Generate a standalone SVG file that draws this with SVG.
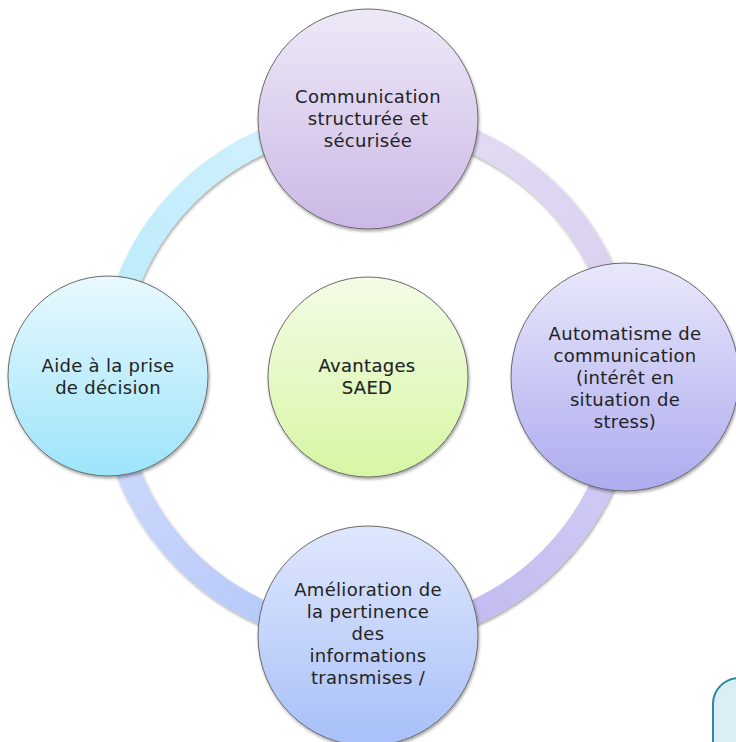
<svg xmlns="http://www.w3.org/2000/svg" width="736" height="742" viewBox="0 0 736 742">
  <style>
    .node { stroke: #6a6a6a; stroke-width: 1; filter: url(#shadow); }
    .arc { fill: none; stroke-width: 24; filter: url(#shadow); }
    text { font-family: "DejaVu Sans", "Noto Sans", sans-serif; font-size: 18px; fill: #232323; text-anchor: middle; letter-spacing: 0.3px; }
    .center-text { stroke: #232323; stroke-width: 0.15px; }
  </style>
  <defs>
    <filter id="shadow" x="-20%" y="-20%" width="140%" height="140%">
      <feDropShadow dx="1" dy="2" stdDeviation="1.8" flood-color="#000" flood-opacity="0.35"/>
    </filter>
    <linearGradient id="gTop" x1="0" y1="0" x2="0" y2="1">
      <stop offset="0" stop-color="#eee9f7"/>
      <stop offset="1" stop-color="#cbb8e6"/>
    </linearGradient>
    <linearGradient id="gRight" x1="0" y1="0" x2="0" y2="1">
      <stop offset="0" stop-color="#e8e8fb"/>
      <stop offset="1" stop-color="#aeabef"/>
    </linearGradient>
    <linearGradient id="gBottom" x1="0" y1="0" x2="0" y2="1">
      <stop offset="0" stop-color="#dfe7fd"/>
      <stop offset="1" stop-color="#a8c0f8"/>
    </linearGradient>
    <linearGradient id="gLeft" x1="0" y1="0" x2="0" y2="1">
      <stop offset="0" stop-color="#e8f9fe"/>
      <stop offset="1" stop-color="#9de4fa"/>
    </linearGradient>
    <linearGradient id="gCenter" x1="0" y1="0" x2="0" y2="1">
      <stop offset="0" stop-color="#f3fce6"/>
      <stop offset="1" stop-color="#d6f6a4"/>
    </linearGradient>
    <linearGradient id="aTL" x1="0" y1="1" x2="1" y2="0">
      <stop offset="0" stop-color="#b9eafb"/>
      <stop offset="1" stop-color="#d5f2fc"/>
    </linearGradient>
    <linearGradient id="aTR" x1="0" y1="0" x2="1" y2="1">
      <stop offset="0" stop-color="#e6def3"/>
      <stop offset="1" stop-color="#d6cdef"/>
    </linearGradient>
    <linearGradient id="aBR" x1="1" y1="0" x2="0" y2="1">
      <stop offset="0" stop-color="#d4d1f6"/>
      <stop offset="1" stop-color="#bcb5ee"/>
    </linearGradient>
    <linearGradient id="aBL" x1="0" y1="0" x2="1" y2="1">
      <stop offset="0" stop-color="#d1dcfc"/>
      <stop offset="1" stop-color="#b0c4f8"/>
    </linearGradient>
  </defs>

  <g id="connectors">
    <path class="arc" stroke="url(#aTL)" d="M 110 377 A 258 258 0 0 1 368 119"/>
    <path class="arc" stroke="url(#aTR)" d="M 368 119 A 258 258 0 0 1 626 377"/>
    <path class="arc" stroke="url(#aBR)" d="M 626 377 A 258 258 0 0 1 368 635"/>
    <path class="arc" stroke="url(#aBL)" d="M 368 635 A 258 258 0 0 1 110 377"/>
  </g>

  <g id="node-top">
    <circle class="node" cx="368" cy="119" r="110" fill="url(#gTop)"/>
    <text x="368" y="103">Communication</text>
    <text x="368" y="125">structurée et</text>
    <text x="368" y="147">sécurisée</text>
  </g>

  <g id="node-right">
    <circle class="node" cx="625" cy="377" r="114" fill="url(#gRight)"/>
    <text x="625" y="340">Automatisme de</text>
    <text x="625" y="362">communication</text>
    <text x="625" y="384">(intérêt en</text>
    <text x="625" y="406">situation de</text>
    <text x="625" y="428">stress)</text>
  </g>

  <g id="node-bottom">
    <circle class="node" cx="368" cy="636" r="110" fill="url(#gBottom)"/>
    <text x="368" y="596">Amélioration de</text>
    <text x="368" y="618">la pertinence</text>
    <text x="368" y="640">des</text>
    <text x="368" y="662">informations</text>
    <text x="368" y="684">transmises /</text>
  </g>

  <g id="node-left">
    <circle class="node" cx="108" cy="376" r="100" fill="url(#gLeft)"/>
    <text x="108" y="372">Aide à la prise</text>
    <text x="108" y="394">de décision</text>
  </g>

  <g id="node-center">
    <circle class="node" cx="368" cy="377" r="100" fill="url(#gCenter)"/>
    <text class="center-text" x="367" y="372">Avantages</text>
    <text class="center-text" x="367" y="394">SAED</text>
  </g>

  <g id="corner-box">
    <rect x="713" y="678" width="80" height="120" rx="26" ry="26" fill="#daeef5" stroke="#2e86a0" stroke-width="2"/>
  </g>
</svg>
